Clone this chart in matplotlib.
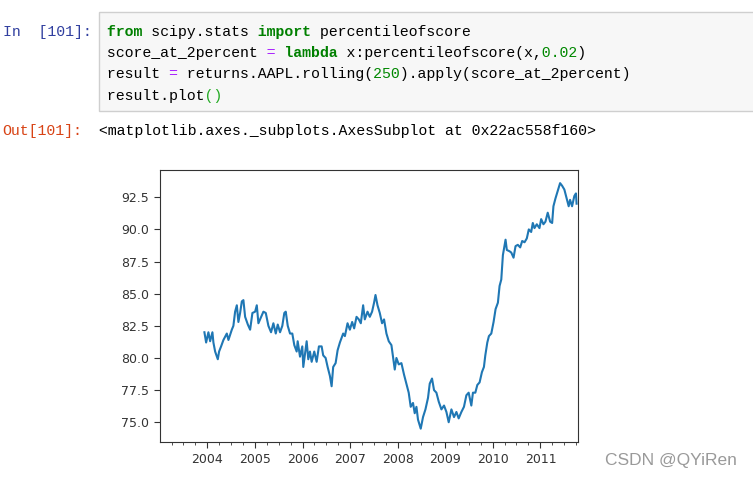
import matplotlib
matplotlib.use("Agg")
import matplotlib.pyplot as plt
import matplotlib.dates as mdates
import matplotlib.ticker as mticker
from matplotlib.patches import Rectangle
import pandas as pd
import numpy as np

# ---- data (decimal year, percentile value) ----
t_years = [
    2003.937, 2003.973, 2004.021, 2004.057, 2004.105, 2004.126, 2004.162, 2004.218, 2004.245, 2004.287,
    2004.336, 2004.407, 2004.441, 2004.512, 2004.545, 2004.581, 2004.617, 2004.650, 2004.686, 2004.722,
    2004.755, 2004.791, 2004.848, 2004.896, 2004.944, 2005.001, 2005.036, 2005.070, 2005.127, 2005.175,
    2005.225, 2005.280, 2005.336, 2005.385, 2005.435, 2005.477, 2005.525, 2005.573, 2005.615, 2005.645,
    2005.687, 2005.735, 2005.783, 2005.825, 2005.875, 2005.896, 2005.945, 2005.993, 2006.014, 2006.085,
    2006.119, 2006.154, 2006.190, 2006.245, 2006.295, 2006.343, 2006.400, 2006.433, 2006.484, 2006.526,
    2006.574, 2006.610, 2006.643, 2006.694, 2006.736, 2006.784, 2006.853, 2006.889, 2006.945, 2006.994,
    2007.042, 2007.084, 2007.134, 2007.182, 2007.224, 2007.273, 2007.308, 2007.365, 2007.413, 2007.461,
    2007.503, 2007.533, 2007.575, 2007.623, 2007.671, 2007.713, 2007.763, 2007.812, 2007.868, 2007.902,
    2007.938, 2007.973, 2008.022, 2008.078, 2008.133, 2008.183, 2008.231, 2008.273, 2008.321, 2008.357,
    2008.393, 2008.426, 2008.483, 2008.531, 2008.582, 2008.636, 2008.672, 2008.720, 2008.762, 2008.812,
    2008.861, 2008.917, 2008.972, 2009.022, 2009.070, 2009.127, 2009.182, 2009.232, 2009.280, 2009.337,
    2009.391, 2009.442, 2009.490, 2009.546, 2009.580, 2009.630, 2009.672, 2009.720, 2009.769, 2009.811,
    2009.840, 2009.882, 2009.916, 2009.966, 2010.014, 2010.056, 2010.105, 2010.140, 2010.176, 2010.210,
    2010.266, 2010.293, 2010.350, 2010.386, 2010.434, 2010.476, 2010.524, 2010.574, 2010.616, 2010.665,
    2010.713, 2010.755, 2010.805, 2010.839, 2010.874, 2010.923, 2010.979, 2011.015, 2011.063, 2011.105,
    2011.153, 2011.204, 2011.246, 2011.273, 2011.315, 2011.363, 2011.413, 2011.455, 2011.503, 2011.552,
    2011.594, 2011.623, 2011.665, 2011.713, 2011.747, 2011.760,
]
pct_values = [
    82.0, 81.2, 82.0, 81.3, 82.0, 81.2, 80.5, 79.9, 80.5, 80.9,
    81.4, 81.9, 81.4, 82.2, 82.5, 83.6, 84.1, 82.8, 83.5, 84.4,
    84.5, 83.2, 82.6, 82.2, 83.5, 83.6, 84.1, 82.7, 83.2, 83.6,
    83.5, 82.5, 82.0, 82.7, 81.9, 82.6, 82.0, 82.5, 83.5, 83.6,
    82.5, 81.9, 81.9, 81.0, 80.5, 81.3, 80.1, 80.9, 79.3, 81.3,
    79.9, 80.5, 79.7, 80.5, 79.7, 80.9, 80.9, 80.2, 80.0, 79.3,
    78.6, 77.8, 79.3, 79.6, 80.6, 81.2, 81.9, 81.7, 82.7, 82.2,
    82.8, 82.3, 83.2, 83.0, 82.7, 84.1, 83.0, 83.6, 83.2, 83.6,
    84.3, 84.9, 84.1, 83.5, 82.7, 83.0, 81.9, 81.3, 81.0, 80.1,
    79.1, 80.0, 79.5, 79.6, 78.7, 78.0, 77.3, 76.2, 76.5, 75.7,
    76.2, 75.2, 74.5, 75.4, 76.0, 76.9, 78.0, 78.4, 77.5, 77.3,
    76.6, 76.0, 76.3, 75.8, 75.0, 76.0, 75.4, 75.8, 75.3, 75.8,
    76.2, 77.1, 77.3, 76.3, 77.3, 77.3, 77.9, 78.1, 78.9, 79.3,
    80.2, 81.2, 81.7, 81.9, 82.8, 83.8, 84.3, 85.6, 86.1, 88.0,
    89.2, 88.4, 88.3, 88.2, 87.8, 88.7, 88.8, 88.6, 89.1, 89.0,
    89.3, 90.0, 89.8, 90.5, 90.1, 90.4, 90.1, 90.8, 90.4, 90.6,
    91.3, 90.6, 90.5, 91.8, 92.4, 93.0, 93.6, 93.4, 93.1, 92.4,
    91.8, 92.3, 91.8, 92.6, 92.8, 92.0,
]
y_ticks = [75.0, 77.5, 80.0, 82.5, 85.0, 87.5, 90.0, 92.5]
x_start, x_end = "2003-01-02", "2011-10-14"

code_lines = [
    "from scipy.stats import percentileofscore",
    "score_at_2percent = lambda x:percentileofscore(x,0.02)",
    "result = returns.AAPL.rolling(250).apply(score_at_2percent)",
    "result.plot()",
]
in_prompt = "In  [101]:"
out_prompt = "Out[101]:"
out_text = "<matplotlib.axes._subplots.AxesSubplot at 0x22ac558f160>"


def to_date(t):
    y = int(np.floor(t))
    start = pd.Timestamp(y, 1, 1)
    days = (pd.Timestamp(y + 1, 1, 1) - start).days
    return start + pd.Timedelta(days=(t - y) * days)


dates = [to_date(t) for t in t_years]

W, H, DPI = 753, 480, 100
fig = plt.figure(figsize=(W / DPI, H / DPI), dpi=DPI)
fig.patch.set_facecolor("white")


def fx(px):
    return px / W


def fy(py):
    return 1 - py / H


# ---- notebook cell ----
box = Rectangle((fx(99), fy(111)), fx(753) - fx(99) + 0.01, fy(11.7) - fy(111),
                transform=fig.transFigure, facecolor="#f7f7f7", edgecolor="#cfcfcf",
                linewidth=1.0, zorder=0)
fig.patches.append(box)

cw = 8.97  # px per character
fs = cw * 72 / DPI / 0.6001
mono = "Liberation Mono"


def layer(line, spans):
    chars = [" "] * len(line)
    for a, b in spans:
        for i in range(a, b):
            chars[i] = line[i]
    return "".join(chars)


def draw_line(line, x0, baseline, colored):
    mask = [False] * len(line)
    layers = []
    for sub, color, weight in colored:
        i = line.find(sub)
        if i < 0:
            continue
        layers.append(((i, i + len(sub)), color, weight))
        for k in range(i, i + len(sub)):
            mask[k] = True
    plain = "".join(" " if mask[i] else c for i, c in enumerate(line))
    fig.text(fx(x0 - cw), fy(baseline), " " + plain, family=mono, fontsize=fs,
             color="#000000", ha="left", va="baseline")
    for span, color, weight in layers:
        s = layer(line, [span])
        fig.text(fx(x0 - cw), fy(baseline), " " + s, family=mono, fontsize=fs,
                 color=color, fontweight=weight, ha="left", va="baseline")


KW = "#008000"
OP = "#AA22FF"
NUM = "#008800"
base0, step = 35.8, 21.3
x_code = 107.3
draw_line(code_lines[0], x_code, base0,
          [("from", KW, "bold"), ("import", KW, "bold")])
draw_line(code_lines[1], x_code, base0 + step,
          [("=", OP, "normal"), ("lambda", KW, "bold"), ("0.02", NUM, "normal")])
draw_line(code_lines[2], x_code, base0 + 2 * step,
          [("=", OP, "normal"), ("250", NUM, "normal")])
draw_line(code_lines[3], x_code, base0 + 3 * step,
          [("()", "#22aa22", "normal")])

fig.text(fx(3.3), fy(base0), in_prompt, family=mono, fontsize=fs,
         color="#303F9F", ha="left", va="baseline")
fig.text(fx(2.3), fy(135.2), out_prompt, family=mono, fontsize=fs,
         color="#D84315", ha="left", va="baseline")
fig.text(fx(99 - cw), fy(135.2), " " + out_text, family=mono, fontsize=fs,
         color="#000000", ha="left", va="baseline")

# ---- the chart ----
ax = fig.add_axes([fx(160), fy(442.3), fx(577.7) - fx(160), fy(169.5) - fy(442.3)])
ax.plot(dates, pct_values, color="#1f77b4", linewidth=1.5)
ax.set_xlim(pd.Timestamp(x_start), pd.Timestamp(x_end))
ax.set_ylim(73.44, 94.66)
ax.set_yticks(y_ticks)
ax.yaxis.set_major_formatter(mticker.FormatStrFormatter("%.1f"))
ax.xaxis.set_major_locator(mdates.YearLocator())
ax.xaxis.set_major_formatter(mdates.DateFormatter("%Y"))
ax.xaxis.set_minor_locator(mdates.MonthLocator(bymonth=[1, 4, 7, 10]))
ax.tick_params(axis="both", which="major", labelsize=9, length=4.5, width=0.8, colors="#333333")
ax.tick_params(axis="x", which="minor", length=2.5, width=0.6, colors="#333333")
for sp in ax.spines.values():
    sp.set_color("#333333")
    sp.set_linewidth(0.8)

# watermark
fig.text(fx(605), fy(460), "CSDN @QYiRen", family="Liberation Sans", fontsize=12.5,
         color="#9a9a9a", ha="left", va="center")

fig.savefig("out.png", dpi=DPI)
